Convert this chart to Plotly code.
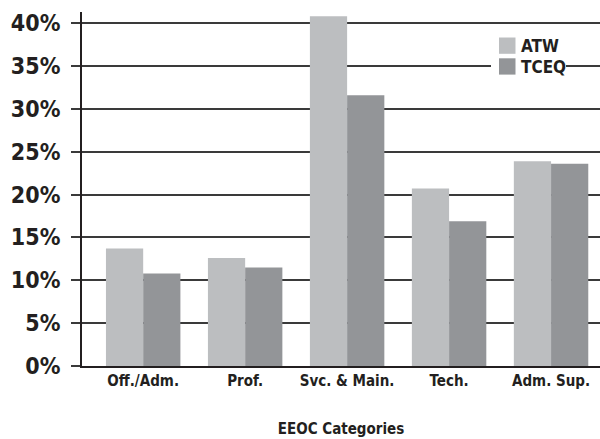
import plotly.graph_objects as go

# EEOC job categories and the share of each workforce in them (%)
categories = ["Off./Adm.", "Prof.", "Svc. & Main.", "Tech.", "Adm. Sup."]
series_names = ["ATW", "TCEQ"]
atw_values = [13.7, 12.6, 40.8, 20.7, 23.9]
tceq_values = [10.8, 11.5, 31.6, 16.9, 23.6]
y_tick_values = [0, 5, 10, 15, 20, 25, 30, 35, 40]
y_tick_labels = [f"{v}%" for v in y_tick_values]

W, H = 600, 439
M_L, M_R, M_T, M_B = 82, 0, 12, 73
PLOT_W = W - M_L - M_R
PLOT_H = H - M_T - M_B

FONT = "DejaVu Sans Condensed, Arial Narrow, sans-serif"
INK = "#231f20"
COLORS = ["#bcbec0", "#939598"]


def px_x(px):
    return (px - M_L) / PLOT_W


def px_y(py):
    return (H - M_B - py) / PLOT_H


fig = go.Figure()
for name, vals, col in zip(series_names, [atw_values, tceq_values], COLORS):
    fig.add_trace(go.Bar(
        x=categories, y=vals, name=name,
        marker=dict(color=col, line=dict(width=0)),
        showlegend=False,
        hoverinfo="skip",
    ))

# Legend panel: white box over the grid, colour swatches and labels
shapes = [dict(type="rect", xref="paper", yref="paper", layer="above",
               x0=px_x(491), x1=px_x(566), y0=px_y(82), y1=px_y(30),
               fillcolor="white", line=dict(width=0))]
annotations = []
for i, (name, col) in enumerate(zip(series_names, COLORS)):
    top = 37.5 + i * 20.8
    shapes.append(dict(type="rect", xref="paper", yref="paper", layer="above",
                       x0=px_x(499), x1=px_x(515.5), y0=px_y(top + 16.3), y1=px_y(top),
                       fillcolor=col, line=dict(width=0)))
    annotations.append(dict(xref="paper", yref="paper", x=px_x(519), y=px_y(top + 8.2),
                            xanchor="left", yanchor="middle", showarrow=False,
                            text=f"<b>{name}</b>",
                            font=dict(family=FONT, size=17, color=INK)))

fig.update_layout(
    width=W, height=H,
    margin=dict(l=M_L, r=M_R, t=M_T, b=M_B),
    paper_bgcolor="white", plot_bgcolor="white",
    barmode="group", bargap=0.27, bargroupgap=0,
    font=dict(family=FONT, color=INK),
    shapes=shapes, annotations=annotations,
    xaxis=dict(
        range=[-0.6, 4.48],
        showline=True, linecolor=INK, linewidth=2,
        ticks="", showgrid=False, zeroline=False,
        tickfont=dict(family=FONT, size=15, color=INK, weight="bold"),
        title=dict(text="<b>EEOC Categories</b>", standoff=34,
                   font=dict(family=FONT, size=15, color=INK)),
        fixedrange=True,
    ),
    yaxis=dict(
        range=[0, 41.3],
        tickvals=y_tick_values, ticktext=y_tick_labels,
        showline=True, linecolor=INK, linewidth=2,
        ticks="outside", ticklen=9, tickwidth=1.5, tickcolor="#3a3a3a",
        ticklabelstandoff=6,
        showgrid=True, gridcolor="#3a3a3a", gridwidth=1.5,
        zeroline=False,
        tickfont=dict(family=FONT, size=23, color=INK, weight="bold"),
        fixedrange=True,
    ),
)

fig.write_html("out.html", config={"displayModeBar": False})
